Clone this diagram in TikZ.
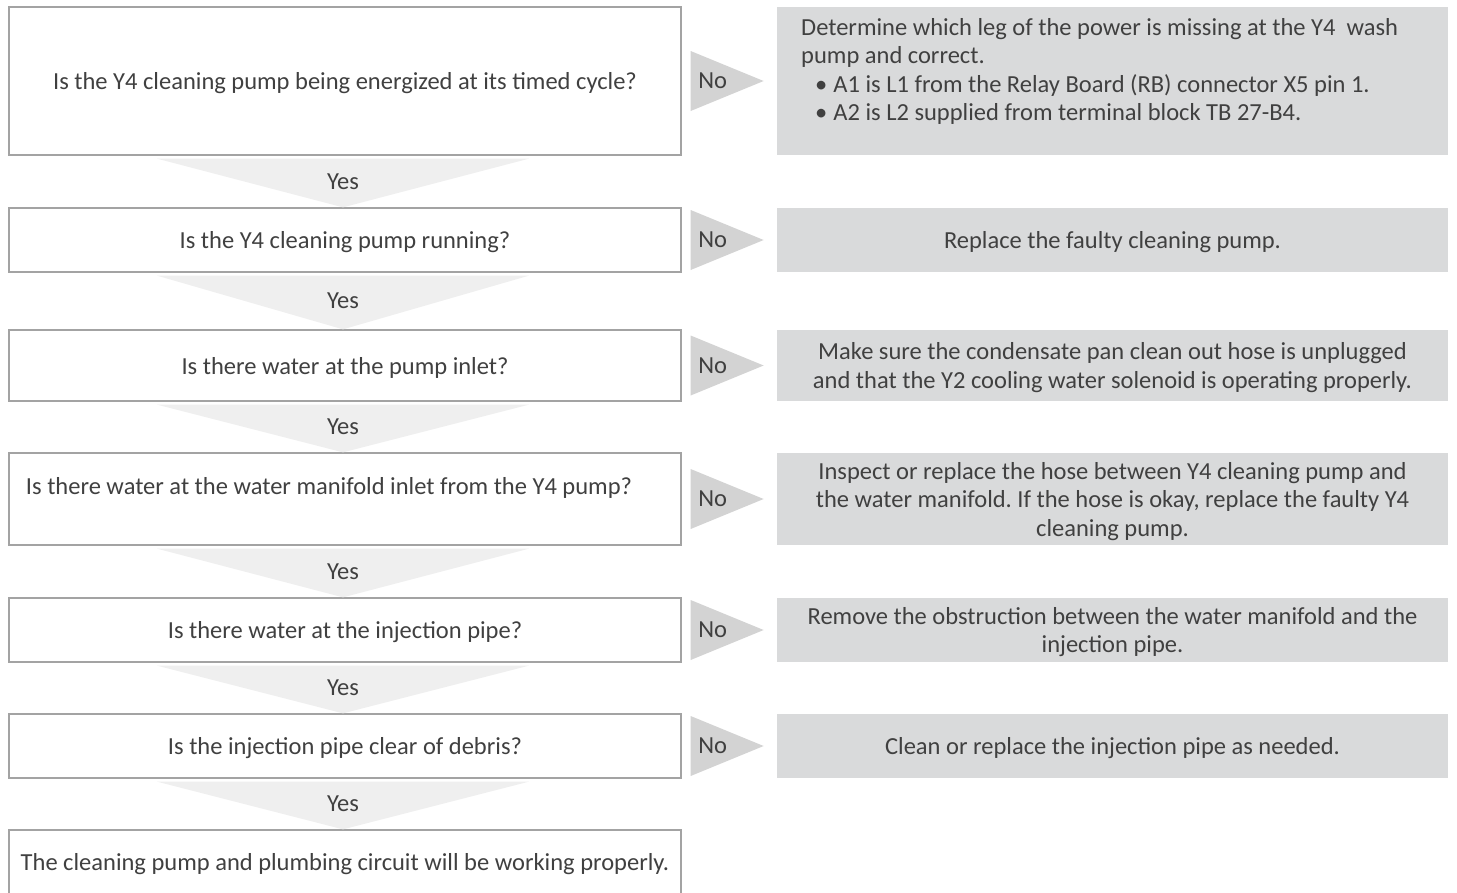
\documentclass[tikz,border=0pt]{standalone}
\usepackage{fontspec}
\setmainfont{Carlito}
\usetikzlibrary{calc}
\frenchspacing
\definecolor{txtgray}{HTML}{404040}
\definecolor{boxline}{HTML}{A3A3A3}
\definecolor{ansfill}{HTML}{D9DADB}
\definecolor{nofill}{HTML}{D3D3D3}
\definecolor{yesfill}{HTML}{EFEFEF}
% yes arrow between two question boxes: (upper)(lower){label name}
\def\yesarrow(#1)(#2)#3{\fill[yesfill] ($(#1.south)+(-188,3)$) -- ($(#1.south)+(184,3)$) -- ($(#2.north)+(-2,0)$) -- cycle;
  \node (#3) at ($(#1.south)!0.5!(#2.north)+(-2,0)$) {Yes};}
% no arrow from a question box to its answer box
\def\noarrow(#1)#2{\fill[nofill] ($(#1.east)+(9,-30)$) -- ($(#1.east)+(82,0)$) -- ($(#1.east)+(9,30)$) -- cycle;
  \node (#2) at ($(#1.east)+(31,0)$) {No};}

\begin{document}
\begin{tikzpicture}[x=1pt,y=-1pt,
    every node/.style={text=txtgray,text depth=0pt,font=\fontsize{24.5}{28.5}\selectfont},
    qbox/.style={draw=boxline,line width=1.3pt,minimum width=672pt,inner sep=0pt},
    abox/.style={fill=ansfill,minimum width=671pt,inner sep=0pt,align=center}]
    %%%%% START %%%%%
    \useasboundingbox (0,0) rectangle (1457,892);

    % questions
    \node[qbox,minimum height=148pt] (q1) at (345,81) {Is the Y4 cleaning pump being energized at its timed cycle?};
    \node[qbox,minimum height=64pt] (q2) at (345,240) {Is the Y4 cleaning pump running?};
    \node[qbox,minimum height=71pt] (q3) at (345,365.5) {Is there water at the pump inlet?};
    \node[qbox,minimum height=92pt] (q4) at (345,499) {};
    \node (q4txt) at (329,486) {Is there water at the water manifold inlet from the Y4 pump?};
    \node[qbox,minimum height=64pt] (q5) at (345,630) {Is there water at the injection pipe?};
    \node[qbox,minimum height=64pt] (q6) at (345,746) {Is the injection pipe clear of debris?};
    \node[qbox,minimum height=64pt] (q7) at (345,862) {The cleaning pump and plumbing circuit will be working properly.};

    % answers
    \node[abox,minimum height=148pt] (a1) at (1112.5,81) {};
    \node[anchor=north west,inner sep=0pt,align=left] (a1txt) at (801,18)
      {Determine which leg of the power is missing at the Y4\ \ wash\\
       pump and correct.\\
       \hspace*{14pt}\textbullet\hspace{6pt}A1 is L1 from the Relay Board (RB) connector X5 pin 1.\\
       \hspace*{14pt}\textbullet\hspace{6pt}A2 is L2 supplied from terminal block TB 27-B4.};
    \node[abox,minimum height=64pt] (a2) at (1112.5,240) {Replace the faulty cleaning pump.};
    \node[abox,minimum height=71pt] (a3) at (1112.5,365.5) {Make sure the condensate pan clean out hose is unplugged\\
      and that the Y2 cooling water solenoid is operating properly.};
    \node[abox,minimum height=92pt] (a4) at (1112.5,499) {Inspect or replace the hose between Y4 cleaning pump and\\
      the water manifold. If the hose is okay, replace the faulty Y4\\ cleaning pump.};
    \node[abox,minimum height=64pt] (a5) at (1112.5,630) {Remove the obstruction between the water manifold and the\\ injection pipe.};
    \node[abox,minimum height=64pt] (a6) at (1112.5,746) {Clean or replace the injection pipe as needed.};

    % yes / no arrows
    \yesarrow(q1)(q2){y1}
    \yesarrow(q2)(q3){y2}
    \yesarrow(q3)(q4){y3}
    \yesarrow(q4)(q5){y4}
    \yesarrow(q5)(q6){y5}
    \yesarrow(q6)(q7){y6}
    \noarrow(q1){n1}
    \noarrow(q2){n2}
    \noarrow(q3){n3}
    \noarrow(q4){n4}
    \noarrow(q5){n5}
    \noarrow(q6){n6}

    %%%%% END %%%%%
\end{tikzpicture}
\end{document}
